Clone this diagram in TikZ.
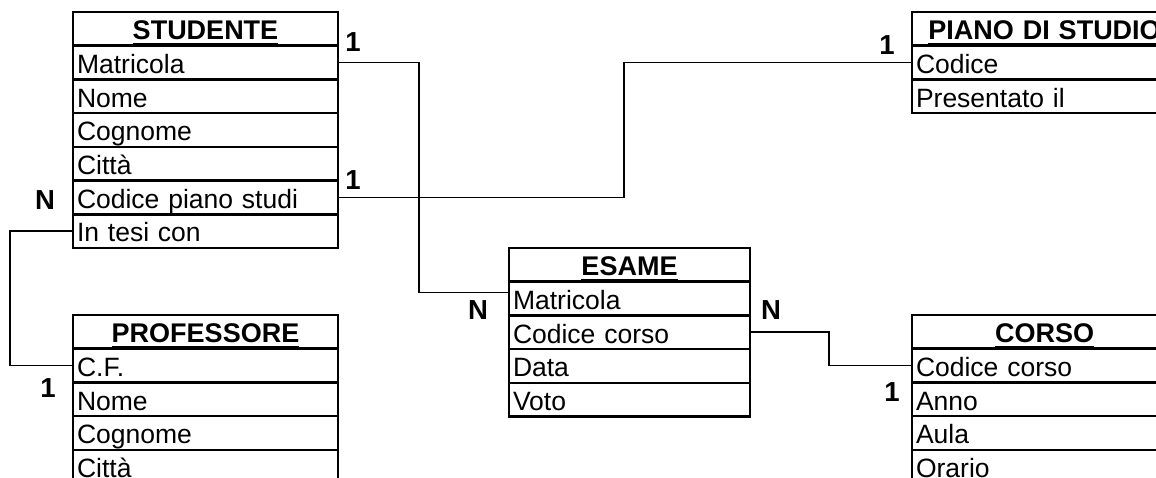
\documentclass[tikz,border=0pt]{standalone}
\usepackage{fontspec}
\setmainfont{Liberation Sans}
\usetikzlibrary{positioning}

\newcommand{\headul}[1]{\leavevmode\vtop{\hbox{#1}\kern3pt\hrule height 2.6pt}}

\begin{document}
\begin{tikzpicture}[x=1pt,y=-1pt,node distance=0pt,
        row/.style={draw, rectangle, line width=2.6pt, outer sep=0pt, inner ysep=0pt, inner xsep=4pt,
            minimum width=265pt, minimum height=33.7pt, text width=257pt, align=left,
            text height=27.7pt, text depth=6pt, font=\fontsize{26.5}{30}\selectfont},
        head/.style={row, align=center, font=\fontsize{27}{30}\selectfont\bfseries},
        card/.style={font=\fontsize{27.5}{30}\selectfont\bfseries},
        link/.style={line width=1.6pt}]
        \useasboundingbox (0,0) rectangle (1156,477);
        \clip (0,0) rectangle (1156,477);

        % STUDENTE
        \node (studente) [head, anchor=north west] at (73,12) {\headul{STUDENTE}};
        \node (st-matricola) [row, below=of studente] {Matricola};
        \node (st-nome) [row, below=of st-matricola] {Nome};
        \node (st-cognome) [row, below=of st-nome] {Cognome};
        \node (st-citta) [row, below=of st-cognome] {Città};
        \node (st-piano) [row, below=of st-citta] {Codice piano studi};
        \node (st-tesi) [row, below=of st-piano] {In tesi con};

        % PROFESSORE
        \node (professore) [head, anchor=north west] at (73,315) {\headul{PROFESSORE}};
        \node (pr-cf) [row, below=of professore] {C.F.};
        \node (pr-nome) [row, below=of pr-cf] {Nome};
        \node (pr-cognome) [row, below=of pr-nome] {Cognome};
        \node (pr-citta) [row, below=of pr-cognome] {Città};

        % ESAME
        \node (esame) [head, anchor=north west, minimum width=241pt, text width=233pt] at (509,248) {\headul{ESAME}};
        \node (es-matricola) [row, minimum width=241pt, text width=233pt, below=of esame] {Matricola};
        \node (es-corso) [row, minimum width=241pt, text width=233pt, below=of es-matricola] {Codice corso};
        \node (es-data) [row, minimum width=241pt, text width=233pt, below=of es-corso] {Data};
        \node (es-voto) [row, minimum width=241pt, text width=233pt, below=of es-data] {Voto};

        % PIANO DI STUDIO
        \node (piano) [head, anchor=north west] at (912,12) {\headul{PIANO DI STUDIO}};
        \node (pi-codice) [row, below=of piano] {Codice};
        \node (pi-data) [row, below=of pi-codice] {Presentato il};

        % CORSO
        \node (corso) [head, anchor=north west] at (912,315) {\headul{CORSO}};
        \node (co-codice) [row, below=of corso] {Codice corso};
        \node (co-anno) [row, below=of co-codice] {Anno};
        \node (co-aula) [row, below=of co-anno] {Aula};
        \node (co-orario) [row, below=of co-aula] {Orario};

        % links
        \draw[link] (st-matricola.east) -- ++(81,0) |- ([yshift=6pt]es-matricola.west);
        \draw[link] (st-piano.east) -- ++(286,0) |- (pi-codice.west);
        \draw[link] (st-tesi.west) -- ++(-63,0) |- (pr-cf.west);
        \draw[link] (es-corso.east) -- ++(79,0) |- (co-codice.west);

        % cardinalities
        \node (c1) [card] at (353,42) {1};
        \node (c2) [card] at (353,180) {1};
        \node (c3) [card] at (45,200) {N};
        \node (c4) [card] at (48,388) {1};
        \node (c5) [card] at (478,310) {N};
        \node (c6) [card] at (771,310) {N};
        \node (c7) [card] at (887,45) {1};
        \node (c8) [card] at (892,392) {1};
    \end{tikzpicture}
\end{document}
